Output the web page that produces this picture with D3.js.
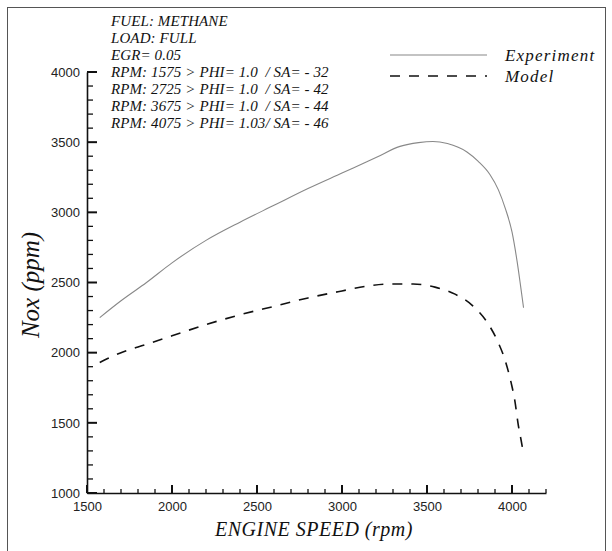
<!DOCTYPE html>
<html>
<head>
<meta charset="utf-8" />
<script src="https://d3js.org/d3.v7.min.js"></script>
<style>
  body { margin: 0; background: #fff; }
  .tick text { font-family: "Liberation Sans", Arial, sans-serif; font-size: 13px; fill: #222; }
  .serif { font-family: "Liberation Serif", "Times New Roman", serif; font-style: italic; fill: #111; white-space: pre; }
</style>
</head>
<body>
<div id="visu"></div>
<script>

// Dimensions
const largeur = 612;
const hauteur = 551;

// Données
const notes = [
    "FUEL: METHANE",
    "LOAD: FULL",
    "EGR= 0.05",
    "RPM: 1575 > PHI= 1.0  / SA= - 32",
    "RPM: 2725 > PHI= 1.0  / SA= - 42",
    "RPM: 3675 > PHI= 1.0  / SA= - 44",
    "RPM: 4075 > PHI= 1.03/ SA= - 46"
];
const series = ["Experiment", "Model"];

const rpmExperience = [1575, 1700, 1850, 2000, 2200, 2400, 2600, 2800, 3000, 3200, 3341, 3450, 3535, 3620, 3735, 3800, 3870, 3920, 3960, 4000, 4030, 4050, 4068];
const noxExperience = [2250, 2370, 2500, 2640, 2800, 2930, 3050, 3170, 3280, 3390, 3470, 3497, 3505, 3490, 3430, 3365, 3270, 3160, 3030, 2860, 2650, 2480, 2320];

const rpmModele = [1575, 1700, 1850, 2000, 2200, 2400, 2600, 2800, 3000, 3150, 3271, 3418, 3547, 3665, 3771, 3853, 3912, 3959, 3994, 4018, 4035, 4059, 4066];
const noxModele = [1930, 2000, 2060, 2120, 2200, 2270, 2330, 2390, 2440, 2475, 2489, 2489, 2467, 2417, 2332, 2218, 2090, 1947, 1790, 1648, 1500, 1340, 1290];

const ticksX = [1500, 2000, 2500, 3000, 3500, 4000];
const ticksY = [1000, 1500, 2000, 2500, 3000, 3500, 4000];

// SVG
const svg = d3.select('#visu')
    .append('svg')
    .attr('width', largeur)
    .attr('height', hauteur);

// Cadre
svg.append('rect')
    .attr('x', 7.5).attr('y', 7.5)
    .attr('width', 598).attr('height', 560)
    .attr('fill', 'none')
    .attr('stroke', '#555')
    .attr('stroke-width', 1);

// Echelles
const echelleX = d3.scaleLinear().domain([1500, 4200]).range([87, 546]);
const echelleY = d3.scaleLinear().domain([1000, 4000]).range([493, 72]);

// Axes : libellés + ligne, les graduations sont tracées à part
const axeX = d3.axisBottom(echelleX).tickValues(ticksX).tickFormat(d3.format('d'))
    .tickSize(0).tickPadding(6);
const axeY = d3.axisLeft(echelleY).tickValues(ticksY).tickFormat(d3.format('d'))
    .tickSize(0).tickPadding(7);

const gx = svg.append('g').attr('transform', `translate(0, ${echelleY(1000)})`).call(axeX);
gx.selectAll('.tick text').attr('dy', '0.9em');
const gy = svg.append('g').attr('transform', `translate(${echelleX(1500)}, 0)`).call(axeY);

svg.selectAll('.domain').attr('stroke', '#111').attr('stroke-width', 1.6);

// Graduations vers l'intérieur (majeures tous les 500, mineures tous les 100)
const x0 = echelleX(1500);
const y0 = echelleY(1000);
const grad = svg.append('g').attr('stroke', '#111');

grad.selectAll('.gy')
    .data(d3.range(1000, 4001, 100))
    .enter()
    .append('line')
    .attr('x1', x0)
    .attr('x2', d => x0 + (d % 500 === 0 ? 10 : 6))
    .attr('y1', d => echelleY(d))
    .attr('y2', d => echelleY(d))
    .attr('stroke-width', d => d % 500 === 0 ? 2 : 1.3);

grad.selectAll('.gx')
    .data(d3.range(1500, 4201, 100))
    .enter()
    .append('line')
    .attr('x1', d => echelleX(d))
    .attr('x2', d => echelleX(d))
    .attr('y1', y0)
    .attr('y2', d => y0 - (d % 500 === 0 ? 8 : 4))
    .attr('stroke-width', d => d % 500 === 0 ? 2 : 1.3);

// Titres des axes
svg.append('text')
    .attr('class', 'serif')
    .attr('x', 314).attr('y', 536)
    .attr('text-anchor', 'middle')
    .attr('font-size', 20)
    .attr('letter-spacing', 0.5)
    .text('ENGINE SPEED (rpm)');

svg.append('text')
    .attr('class', 'serif')
    .attr('transform', `translate(39, 285) rotate(-90)`)
    .attr('text-anchor', 'middle')
    .attr('font-size', 25)
    .text('Nox (ppm)');

// Texte des conditions
svg.append('g').selectAll('text')
    .data(notes)
    .enter()
    .append('text')
    .attr('class', 'serif')
    .attr('x', 111)
    .attr('y', (d, i) => 26 + i * 17)
    .attr('font-size', 15)
    .attr('letter-spacing', 0.1)
    .text(d => d);

// Courbes
const ligneGen = d3.line()
    .x(d => echelleX(d[0]))
    .y(d => echelleY(d[1]))
    .curve(d3.curveMonotoneX);

const pointsExp = rpmExperience.map((r, i) => [r, noxExperience[i]]);
const pointsMod = rpmModele.map((r, i) => [r, noxModele[i]]);

svg.append('path')
    .datum(pointsExp)
    .attr('d', ligneGen)
    .attr('fill', 'none')
    .attr('stroke', '#888')
    .attr('stroke-width', 1.1);

svg.append('path')
    .datum(pointsMod)
    .attr('d', ligneGen)
    .attr('fill', 'none')
    .attr('stroke', '#111')
    .attr('stroke-width', 1.6)
    .attr('stroke-dasharray', '10,9');

// Légende
const legende = svg.append('g');
series.forEach((nom, i) => {
    const y = 55 + i * 21;
    legende.append('line')
        .attr('x1', 390).attr('x2', 487)
        .attr('y1', y).attr('y2', y)
        .attr('stroke', i === 0 ? '#888' : '#111')
        .attr('stroke-width', i === 0 ? 1.1 : 1.6)
        .attr('stroke-dasharray', i === 0 ? null : '10,9');
    legende.append('text')
        .attr('class', 'serif')
        .attr('x', 505).attr('y', y + 6)
        .attr('font-size', 17)
        .attr('letter-spacing', 1.2)
        .text(nom);
});

</script>
</body>
</html>
